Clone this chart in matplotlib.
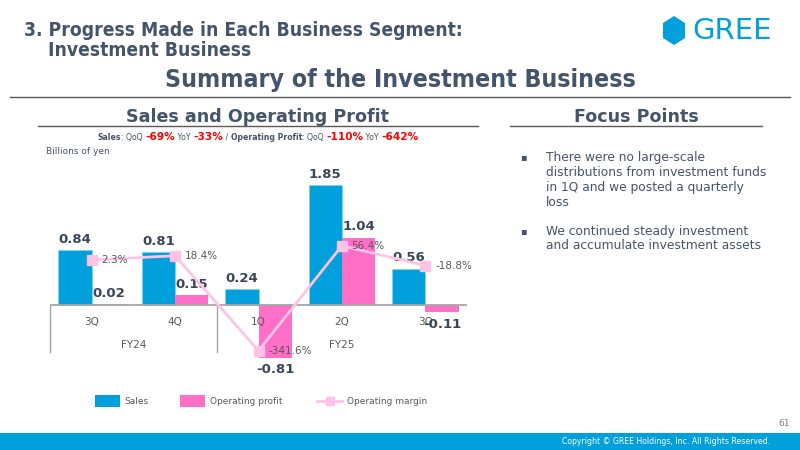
import matplotlib
matplotlib.use("Agg")
import matplotlib.pyplot as plt
from matplotlib.patches import Polygon, Rectangle
from matplotlib.lines import Line2D
import matplotlib.transforms as mtransforms

# data
quarters = ["3Q", "4Q", "1Q", "2Q", "3Q"]
fiscal_years = ["FY24", "FY25"]
fy_spans = [(0, 1), (2, 4)]
sales = [0.84, 0.81, 0.24, 1.85, 0.56]
op_profit = [0.02, 0.15, -0.81, 1.04, -0.11]
op_margin = [2.3, 18.4, -341.6, 56.4, -18.8]

subtitle_parts = [
    ("Sales", "bold", 5.6, "dark"), (": QoQ ", "normal", 5.6, "dark"),
    ("-69%", "bold", 7.6, "red"), (" YoY ", "normal", 5.6, "dark"),
    ("-33%", "bold", 7.6, "red"), (" / ", "normal", 5.6, "dark"),
    ("Operating Profit", "bold", 5.6, "dark"), (": QoQ ", "normal", 5.6, "dark"),
    ("-110%", "bold", 7.6, "red"), (" YoY ", "normal", 5.6, "dark"),
    ("-642%", "bold", 7.6, "red"),
]
focus_points = [
    "There were no large-scale\ndistributions from investment funds\nin 1Q and we posted a quarterly\nloss",
    "We continued steady investment\nand accumulate investment assets",
]

DARK = "#44546A"
BLUE = "#00A0DC"
PINK = "#FF6EC7"
LPINK = "#FFC3E8"
GRAY = "#A6A6A6"
W, H = 800, 450

fig = plt.figure(figsize=(8, 4.5), dpi=100)


def fx(x):
    return x / W


def fy(y):
    return 1 - y / H


# header
hdr = dict(color=DARK, fontweight="bold", fontstretch="condensed", family="DejaVu Sans")
fig.text(fx(24), fy(30), "3. Progress Made in Each Business Segment:", fontsize=13.8, va="center", **hdr)
fig.text(fx(48), fy(50), "Investment Business", fontsize=13.8, va="center", **hdr)
fig.text(fx(400), fy(80), "Summary of the Investment Business", fontsize=17.8, ha="center", va="center", **hdr)
fig.add_artist(Line2D([fx(10), fx(790)], [fy(97), fy(97)], color="#595959", lw=1))

# logo
hexagon = [(674, 16), (685, 23), (685, 38), (674, 45), (663, 38), (663, 23)]
fig.add_artist(Polygon([(fx(a), fy(b)) for a, b in hexagon], closed=True,
                       facecolor=BLUE, edgecolor="none", transform=fig.transFigure))
fig.text(fx(692), fy(31), "GREE", fontsize=21, color=BLUE, va="center", ha="left")

# section titles
fig.text(fx(258), fy(117), "Sales and Operating Profit", fontsize=12.6, fontweight="bold",
         color=DARK, ha="center", va="center")
fig.add_artist(Line2D([fx(38), fx(478)], [fy(126), fy(126)], color="#595959", lw=1))
fig.text(fx(636), fy(117), "Focus Points", fontsize=12.6, fontweight="bold",
         color=DARK, ha="center", va="center")
fig.add_artist(Line2D([fx(510), fx(762)], [fy(126), fy(126)], color="#595959", lw=1))

# subtitle with mixed styles
renderer = fig.canvas.get_renderer()
texts = []
total = 0
for s, wgt, size, col in subtitle_parts:
    t = fig.text(0, fy(137), s, fontsize=size, fontweight=wgt,
                 color=("#FF0000" if col == "red" else DARK), va="center")
    w = t.get_window_extent(renderer).width
    texts.append((t, w))
    total += w
x0 = 258 - total / 2
for t, w in texts:
    t.set_x(fx(x0))
    x0 += w
fig.text(fx(46), fy(151), "Billions of yen", fontsize=6.5, color=DARK, va="center")

# focus points
for s, y in zip(focus_points, [157, 231]):
    fig.text(fx(520), fy(y), "\u25aa", fontsize=7, color=DARK, va="center")
    for i, line in enumerate(s.split("\n")):
        fig.text(fx(546), fy(y + 15 * i), line, fontsize=8.8, color=DARK, va="center")

# chart
top, bottom = 160, 380
ax = fig.add_axes([fx(50), fy(bottom), fx(467 - 50), (bottom - top) / H])
zero_px, ppu = 305, 64.9
ax.set_ylim(-(bottom - zero_px) / ppu, (zero_px - top) / ppu)
ax.set_xlim(-0.5, len(quarters) - 0.5)
ax.axis("off")

x = list(range(len(quarters)))
bw = 0.4
ax.bar([i - bw / 2 for i in x], sales, bw, color=BLUE, edgecolor="#7FD3F0", lw=0.5, zorder=2)
ax.bar([i + bw / 2 for i in x], op_profit, bw, color=PINK, zorder=2)
ax.axhline(0, color=GRAY, lw=1.3, zorder=3)

lab = dict(fontsize=9.5, fontweight="bold", color="#3B4656", ha="center")
for i, v in enumerate(sales):
    ax.annotate(f"{v:.2f}", (i - bw / 2, v), xytext=(0, 3), textcoords="offset points",
                va="bottom", zorder=6, **lab)
for i, v in enumerate(op_profit):
    if v >= 0:
        ax.annotate(f"{v:.2f}", (i + bw / 2, v), xytext=(0, 3), textcoords="offset points",
                    va="bottom", zorder=6, **lab)
    else:
        ax.annotate(f"{v:.2f}", (i + bw / 2, v), xytext=(0, -4), textcoords="offset points",
                    va="top", zorder=6, **lab)

# category axis labels
trans = mtransforms.blended_transform_factory(ax.transData, ax.transAxes)
zero_frac = (bottom - zero_px) / (bottom - top)
for i, q in enumerate(quarters):
    ax.text(i, (bottom - 322) / (bottom - top), q, transform=trans, fontsize=7.5,
            color="#595959", ha="center", va="center")
for (a, b), fyr in zip(fy_spans, fiscal_years):
    ax.text((a + b) / 2, (bottom - 345) / (bottom - top), fyr, transform=trans, fontsize=7.5,
            color="#595959", ha="center", va="center")
for xs in [-0.5, 1.5]:
    ax.plot([xs, xs], [zero_frac, (bottom - 352) / (bottom - top)], transform=trans,
            color=GRAY, lw=1, clip_on=False)

# margin line
ax2 = ax.twinx()
zero2, ppp = 260.6, 0.264
ax2.set_ylim(-(bottom - zero2) / ppp, (zero2 - top) / ppp)
ax2.axis("off")
ax2.plot(x, op_margin, color=LPINK, lw=2, marker="s", markersize=7, zorder=4)
for i, v in enumerate(op_margin):
    ax2.annotate(f"{v:.1f}%", (i, v), xytext=(7, 0), textcoords="offset points",
                 va="center", ha="left", fontsize=7.5, color="#595959", zorder=6)

# legend
fig.add_artist(Rectangle((fx(95), fy(407)), fx(25), 12 / H, facecolor=BLUE, transform=fig.transFigure))
fig.text(fx(124), fy(401), "Sales", fontsize=6.5, color="#595959", va="center")
fig.add_artist(Rectangle((fx(180), fy(407)), fx(25), 12 / H, facecolor=PINK, transform=fig.transFigure))
fig.text(fx(210), fy(401), "Operating profit", fontsize=6.5, color="#595959", va="center")
fig.add_artist(Line2D([fx(317), fx(342)], [fy(401), fy(401)], color=LPINK, lw=2,
                      transform=fig.transFigure))
fig.add_artist(Line2D([fx(329.5)], [fy(401)], color=LPINK, marker="s", markersize=6,
                      transform=fig.transFigure))
fig.text(fx(347), fy(401), "Operating margin", fontsize=6.5, color="#595959", va="center")

# footer
fig.text(fx(790), fy(424), "61", fontsize=6.5, color="#7F7F7F", ha="right", va="center")
fig.add_artist(Rectangle((0, 0), 1, 17 / H, facecolor=BLUE, edgecolor="none", transform=fig.transFigure))
fig.text(fx(770), fy(441.5), "Copyright \u00a9 GREE Holdings, Inc. All Rights Reserved.",
         fontsize=5.6, color="white", ha="right", va="center")

fig.savefig("out.png", dpi=100)
